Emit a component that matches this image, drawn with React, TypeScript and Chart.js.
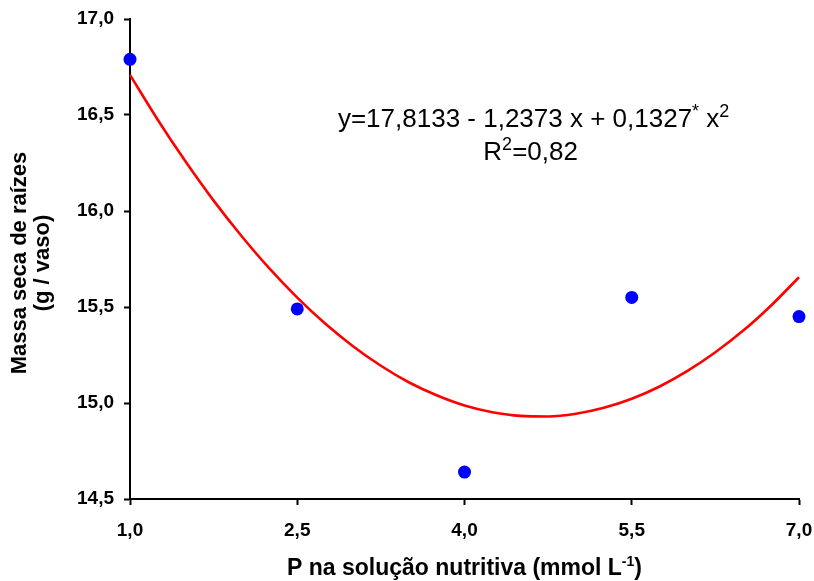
import React, { useEffect, useRef } from "react";
import { Chart, registerables } from "chart.js";

Chart.register(...registerables);

// Observed data (P in nutrient solution vs. root dry mass)
const doseX = [1, 2.5, 4, 5.5, 7];
const massY = [16.79, 15.49, 14.64, 15.55, 15.45];

// Fitted curve values
const curveX = [1, 1.25, 1.5, 1.75, 2, 2.25, 2.5, 2.75, 3, 3.25, 3.5, 3.75, 4, 4.25, 4.5, 4.75, 5, 5.25, 5.5, 5.75, 6, 6.25, 6.5, 6.75, 7];
const curveY = [16.709, 16.474, 16.256, 16.054, 15.870, 15.701, 15.549, 15.414, 15.296, 15.194, 15.108, 15.040, 14.987, 14.952, 14.933, 14.930, 14.944, 14.975, 15.022, 15.086, 15.167, 15.264, 15.377, 15.508, 15.655];

const xTicks = [1, 2.5, 4, 5.5, 7];
const yTicks = [14.5, 15, 15.5, 16, 16.5, 17];

const yTitleLines = ["Massa seca de raízes", "(g / vaso)"];
const xTitleMain = "P na solução nutritiva (mmol L";
const xTitleSup = "-1";
const xTitleEnd = ")";
const eqParts: [string, boolean][] = [
  ["y=17,8133 - 1,2373 x + 0,1327", false],
  ["*", true],
  [" x", false],
  ["2", true],
];
const r2Parts: [string, boolean][] = [
  ["R", false],
  ["2", true],
  ["=0,82", false],
];

const fmt = (v: number) => v.toFixed(1).replace(".", ",");

function drawParts(ctx: CanvasRenderingContext2D, parts: [string, boolean][], cx: number, baseline: number, size: number, weight: string, supScale: number) {
  const family = "Arial, 'Liberation Sans', sans-serif";
  const supSize = Math.round(size * supScale);
  let total = 0;
  const widths = parts.map(([t, sup]) => {
    ctx.font = `${weight} ${sup ? supSize : size}px ${family}`;
    const w = ctx.measureText(t).width;
    total += w;
    return w;
  });
  let x = cx - total / 2;
  ctx.textAlign = "left";
  ctx.textBaseline = "alphabetic";
  parts.forEach(([t, sup], i) => {
    ctx.font = `${weight} ${sup ? supSize : size}px ${family}`;
    ctx.fillText(t, x, sup ? baseline - size * 0.4 : baseline);
    x += widths[i];
  });
}

const textPlugin = {
  id: "texts",
  afterDraw(chart: any) {
    const ctx: CanvasRenderingContext2D = chart.ctx;
    const area = chart.chartArea;
    ctx.save();
    ctx.fillStyle = "#000";
    // Y title
    ctx.save();
    ctx.translate(20, (area.top + area.bottom) / 2 + 4);
    ctx.rotate(-Math.PI / 2);
    ctx.font = "bold 22px Arial, 'Liberation Sans', sans-serif";
    ctx.textAlign = "center";
    ctx.textBaseline = "middle";
    ctx.fillText(yTitleLines[0], 0, 0);
    ctx.fillText(yTitleLines[1], 0, 23);
    ctx.restore();
    // X title
    drawParts(ctx, [[xTitleMain, false], [xTitleSup, true], [xTitleEnd, false]], (area.left + area.right) / 2, 575, 23, "bold", 0.6);
    // Equation
    const cx = chart.scales.x.getPixelForValue(4.62);
    drawParts(ctx, eqParts, cx, 127, 26, "normal", 0.7);
    drawParts(ctx, r2Parts, cx - 3, 160, 26, "normal", 0.7);
    ctx.restore();
  },
};

export default function App() {
  const ref = useRef<HTMLCanvasElement | null>(null);
  useEffect(() => {
    document.body.style.margin = "0";
    const canvas = ref.current!;
    const chart = new Chart(canvas, {
      type: "scatter",
      data: {
        datasets: [
          {
            type: "scatter",
            data: doseX.map((x, i) => ({ x, y: massY[i] })),
            backgroundColor: "#0000FF",
            borderWidth: 0,
            pointRadius: 6.5,
            order: 0,
            clip: false,
          } as any,
          {
            type: "line",
            data: curveX.map((x, i) => ({ x, y: curveY[i] })),
            borderColor: "#FF0000",
            borderWidth: 2.6,
            pointRadius: 0,
            cubicInterpolationMode: "monotone",
            fill: false,
            order: 1,
            clip: false,
          } as any,
        ],
      },
      options: {
        responsive: false,
        animation: false,
        layout: { padding: { top: 19, right: 15, left: 0, bottom: 0 } },
        plugins: { legend: { display: false }, tooltip: { enabled: false } },
        scales: {
          x: {
            type: "linear",
            min: 1,
            max: 7,
            afterBuildTicks: (s: any) => {
              s.ticks = xTicks.map((v) => ({ value: v }));
            },
            afterFit: (s: any) => {
              s.height = 82;
              s.paddingLeft = 0;
              s.paddingRight = 0;
            },
            ticks: {
              callback: (v: any) => fmt(Number(v)),
              color: "#000",
              font: { family: "Arial, 'Liberation Sans', sans-serif", size: 19, weight: "bold" },
              padding: 14,
              maxRotation: 0,
            },
            grid: { display: true, drawOnChartArea: false, drawTicks: true, tickLength: 6, tickWidth: 2, tickColor: "#000", color: "#000" },
            border: { display: true, color: "#000", width: 2 },
          },
          y: {
            type: "linear",
            min: 14.5,
            max: 17,
            afterBuildTicks: (s: any) => {
              s.ticks = yTicks.map((v) => ({ value: v }));
            },
            afterFit: (s: any) => {
              s.width = 130;
              s.paddingTop = 0;
              s.paddingBottom = 0;
            },
            ticks: {
              callback: (v: any) => fmt(Number(v)),
              color: "#000",
              font: { family: "Arial, 'Liberation Sans', sans-serif", size: 19, weight: "bold" },
              padding: 10,
            },
            grid: { display: true, drawOnChartArea: false, drawTicks: true, tickLength: 6, tickWidth: 2, tickColor: "#000", color: "#000" },
            border: { display: true, color: "#000", width: 2 },
          },
        },
      } as any,
      plugins: [textPlugin],
    });
    return () => chart.destroy();
  }, []);
  return (
    <div style={{ width: 814, height: 581 }}>
      <canvas ref={ref} width={814} height={581} />
    </div>
  );
}
